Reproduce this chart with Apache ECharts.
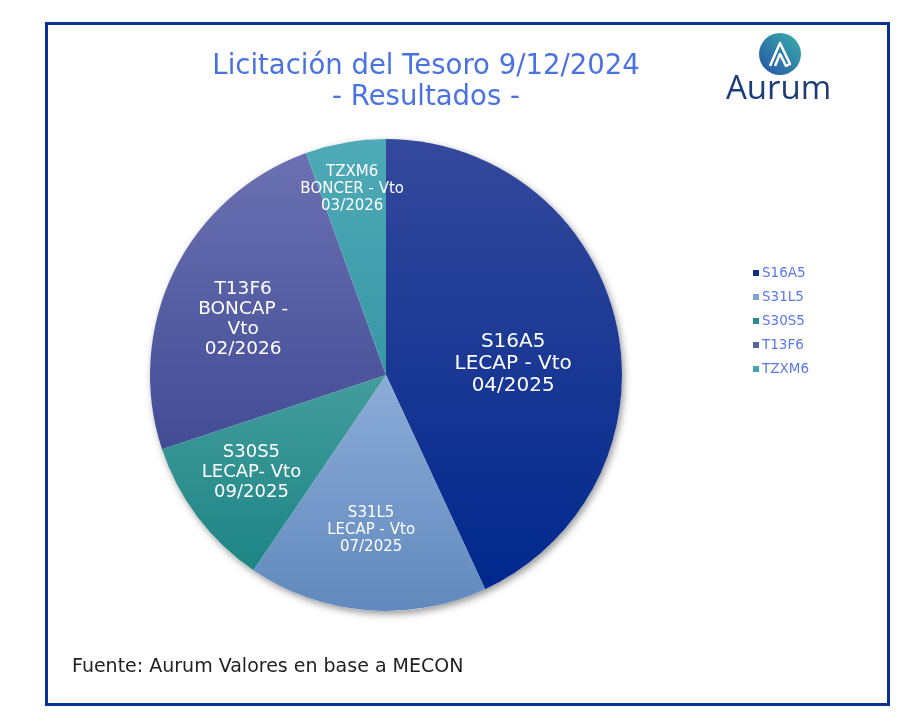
<!DOCTYPE html>
<html><head><meta charset="utf-8">
<script src="https://cdn.jsdelivr.net/npm/echarts@6/dist/echarts.min.js"></script>
<style>html,body{margin:0;padding:0;background:#fff}#c{width:913px;height:727px}</style>
</head><body><div id="c"></div>
<script>
const categories = ['S16A5', 'S31L5', 'S30S5', 'T13F6', 'TZXM6'];
const labels = ['S16A5\nLECAP - Vto\n04/2025', 'S31L5\nLECAP - Vto\n07/2025', 'S30S5\nLECAP- Vto\n09/2025', 'T13F6\nBONCAP -\nVto\n02/2026', 'TZXM6\nBONCER - Vto\n03/2026'];
const values = [43.1, 16.4, 10.4, 24.6, 5.5];
const topColors = ['#34499c', '#8cacd8', '#449d9d', '#6b71b2', '#4eaab6'];
const bottomColors = ['#00288d', '#6189bd', '#1d8484', '#424c95', '#3897a6'];
const legendColors = ['#0b2e8c', '#7ea3cf', '#2a8f8c', '#5a62a8', '#45a3b0'];
const labelSizes = [20, 15, 18, 18.5, 15];
const labelOffsets = [[9, 15], [-5, 35], [-38, 24], [-34, -3], [-13, -67]];

const FONT = 'DejaVu Sans';
const chart = echarts.init(document.getElementById('c'));
const data = categories.map((n, i) => ({
  name: n,
  value: values[i],
  itemStyle: {
    color: { type: 'linear', x: 0, y: 0, x2: 0, y2: 1, colorStops: [{ offset: 0, color: topColors[i] }, { offset: 1, color: bottomColors[i] }] }
  },
  label: { formatter: labels[i], fontSize: labelSizes[i], offset: labelOffsets[i], lineHeight: Math.round(labelSizes[i] * 1.1) }
}));
const total = values.reduce((a, b) => a + b, 0);

chart.setOption({
  animation: false,
  title: {
    text: 'Licitación del Tesoro 9/12/2024\n- Resultados -',
    left: 421, top: 46, textAlign: 'center',
    textStyle: { color: '#4a72e0', fontSize: 27.5, fontWeight: 'normal', fontFamily: FONT, lineHeight: 31 }
  },
  legend: {
    orient: 'vertical', left: 748, top: 261, itemGap: 10, itemWidth: 6, itemHeight: 6,
    icon: 'rect',
    data: categories.map((n, i) => ({ name: n, itemStyle: { color: legendColors[i] } })),
    textStyle: { color: '#5a78e6', fontSize: 13.5, fontFamily: FONT, padding: [0, 0, 0, -2] }
  },
  graphic: [
    { type: 'rect', shape: { x: 46.5, y: 23.5, width: 842, height: 681 }, style: { fill: 'none', stroke: '#0a3296', lineWidth: 3 } },
    { type: 'circle', shape: { cx: 780, cy: 54, r: 21 }, style: { fill: { type: 'linear', x: 0, y: 1, x2: 1, y2: 0, colorStops: [{ offset: 0, color: '#2752a8' }, { offset: 1, color: '#3bb0a8' }] } } },
    { type: 'polyline', shape: { points: [[770, 66], [780, 43], [790, 64], [786, 66], [780, 54], [775, 66]] }, style: { fill: 'none', stroke: '#fff', lineWidth: 2.5, lineJoin: 'round' } },
    { type: 'text', left: 726, top: 73, style: { text: 'Aurum', fill: '#1f3c7a', fontSize: 33, fontFamily: 'Open Sans' } },
    { type: 'text', left: 72, top: 658, style: { text: 'Fuente: Aurum Valores en base a MECON', fill: '#222', fontSize: 19, fontFamily: FONT } }
  ],
  series: [{
    type: 'pie',
    center: [386, 375],
    radius: [0, 236],
    silent: true,
    z: 1,
    data: [{ name: '_shadow', value: total }],
    itemStyle: { color: '#fff', shadowBlur: 7, shadowOffsetX: 2, shadowOffsetY: 3, shadowColor: 'rgba(0,0,0,0.4)' },
    label: { show: false },
    labelLine: { show: false },
    emphasis: { disabled: true },
    tooltip: { show: false }
  }, {
    type: 'pie',
    center: [386, 375],
    radius: [0, 236],
    startAngle: 90,
    clockwise: true,
    z: 2,
    data: data,
    label: { show: true, position: 'inside', color: '#fff', fontFamily: FONT, align: 'center' },
    labelLine: { show: false },
    emphasis: { disabled: true }
  }]
});
</script></body></html>
